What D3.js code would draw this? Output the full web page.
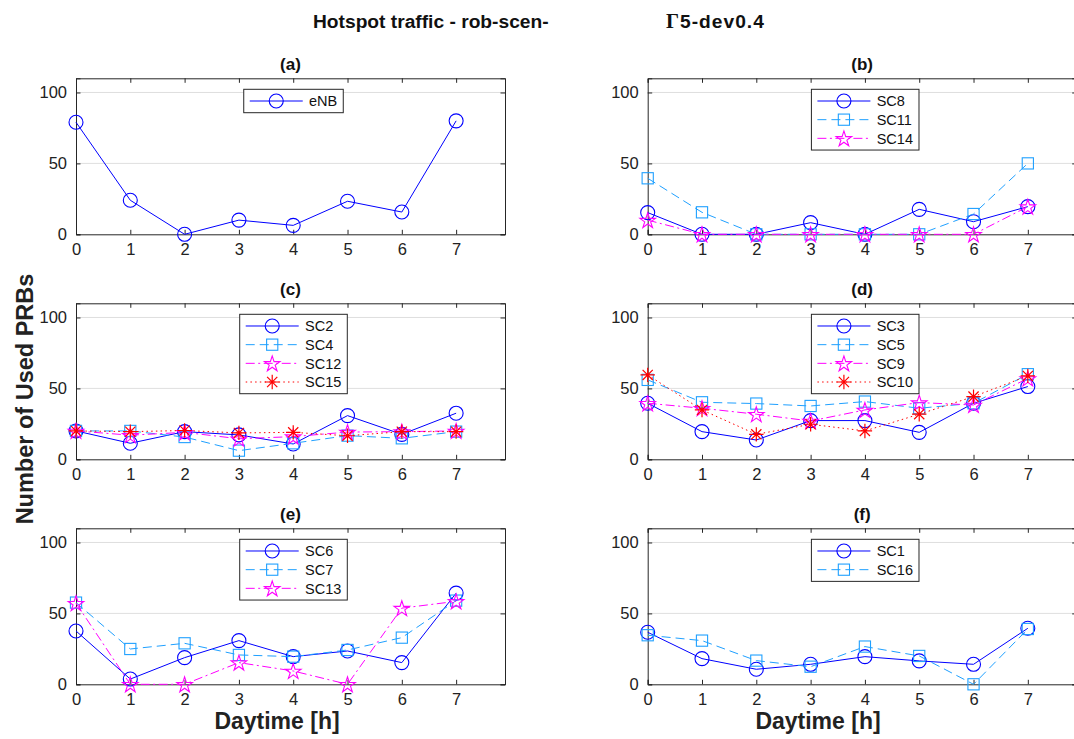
<!DOCTYPE html>
<html>
<head>
<meta charset="utf-8">
<script src="https://cdn.jsdelivr.net/npm/d3@7"></script>
<style>
  html, body { margin: 0; padding: 0; background: #fff; }
  svg { display: block; }
  text { font-family: "Liberation Sans", Arial, Helvetica, sans-serif; }
</style>
</head>
<body>
<svg id="chart" width="1074" height="739"></svg>
<script>
// ---------------- data ----------------
const hours = [0, 1, 2, 3, 4, 5, 6, 7];
const xTickValues = [0, 1, 2, 3, 4, 5, 6, 7];
const yTickValues = [0, 50, 100];
const panelTitles = ["(a)", "(b)", "(c)", "(d)", "(e)", "(f)"];

// (a)
const eNB  = [79, 24, 0, 10, 6.3, 23.3, 15.7, 80];
// (b)
const SC8  = [15.3, 0, 0, 8.2, 0, 17.6, 8.9, 19.5];
const SC11 = [39.5, 15.5, 0, 0, 0, 0, 14.3, 50];
const SC14 = [10, 0, 0, 0, 0, 0, 0, 19.5];
// (c)
const SC2  = [20, 11.3, 19.5, 17.2, 10.8, 30.8, 17.6, 32.5];
const SC4  = [20, 20, 15.7, 6.1, 11.3, 16.7, 14.8, 19.5];
const SC12 = [20, 17, 19, 14.5, 16, 19.2, 19.5, 20];
const SC15 = [20, 19.5, 20.3, 18.6, 19, 16.6, 19.5, 19.5];
// (d)
const SC3  = [39.5, 19.5, 13.6, 27.3, 27.3, 19, 39.5, 51.3];
const SC5  = [56, 40.2, 39.3, 37.6, 40.7, 36, 39.5, 60];
const SC9  = [39.5, 36, 31.8, 27, 34.8, 40, 38.3, 57];
const SC10 = [59.5, 34.8, 17.6, 24.7, 20, 31.8, 44.2, 58.8];
// (e)
const SC6  = [37.6, 3.7, 18.8, 30.8, 19.5, 23.5, 15.3, 64.3];
const SC7  = [57.6, 24.9, 28.9, 20.7, 19.5, 24.2, 32.9, 59];
const SC13 = [57.2, 0, 0, 15.3, 9.4, 0, 53.7, 58.5];
// (f)
const SC1  = [36.7, 18.1, 10.6, 14.1, 19.5, 16.5, 14.1, 39.5];
const SC16 = [34.6, 30.8, 16.7, 12.4, 26.6, 20, 0, 39];

// ---------------- styles ----------------
const STY = {
  circle:   { color: "#0000ff", dash: null,            marker: "circle" },
  square:   { color: "#1fa0ff", dash: "9,5",           marker: "square" },
  star:     { color: "#ff00ff", dash: "9,3.5,2,3.5",   marker: "star" },
  asterisk: { color: "#ff0000", dash: "1.5,3.2",       marker: "asterisk" }
};

const panels = [
  { title: panelTitles[0], series: [{ name: "eNB", values: eNB, s: STY.circle }] },
  { title: panelTitles[1], series: [
      { name: "SC8", values: SC8, s: STY.circle },
      { name: "SC11", values: SC11, s: STY.square },
      { name: "SC14", values: SC14, s: STY.star }] },
  { title: panelTitles[2], series: [
      { name: "SC2", values: SC2, s: STY.circle },
      { name: "SC4", values: SC4, s: STY.square },
      { name: "SC12", values: SC12, s: STY.star },
      { name: "SC15", values: SC15, s: STY.asterisk }] },
  { title: panelTitles[3], series: [
      { name: "SC3", values: SC3, s: STY.circle },
      { name: "SC5", values: SC5, s: STY.square },
      { name: "SC9", values: SC9, s: STY.star },
      { name: "SC10", values: SC10, s: STY.asterisk }] },
  { title: panelTitles[4], series: [
      { name: "SC6", values: SC6, s: STY.circle },
      { name: "SC7", values: SC7, s: STY.square },
      { name: "SC13", values: SC13, s: STY.star }] },
  { title: panelTitles[5], series: [
      { name: "SC1", values: SC1, s: STY.circle },
      { name: "SC16", values: SC16, s: STY.square }] }
];

// ---------------- layout ----------------
const svg = d3.select("#chart");
svg.append("rect").attr("width", 1074).attr("height", 739).attr("fill", "#fff");

const colX = [76, 647.7];
const rowY = [78.3, 303.3, 528.3];
const PW = 429, PH = 156;
const axisColor = "#262626";
const gridColor = "#dfdfdf";

function starPath(R) {
  const r = R * 0.382;
  const pts = [];
  for (let i = 0; i < 10; i++) {
    const a = -Math.PI / 2 + i * Math.PI / 5;
    const rr = i % 2 === 0 ? R : r;
    pts.push([rr * Math.cos(a), rr * Math.sin(a)]);
  }
  return "M" + pts.map(p => p[0].toFixed(2) + "," + p[1].toFixed(2)).join("L") + "Z";
}
function asteriskPath(R) {
  let p = "";
  for (let i = 0; i < 4; i++) {
    const a = i * Math.PI / 4;
    const dx = R * Math.cos(a), dy = R * Math.sin(a);
    p += `M${(-dx).toFixed(2)},${(-dy).toFixed(2)}L${dx.toFixed(2)},${dy.toFixed(2)}`;
  }
  return p;
}
function drawMarker(g, type, x, y, color) {
  if (type === "circle") {
    g.append("circle").attr("cx", x).attr("cy", y).attr("r", 7)
      .attr("fill", "none").attr("stroke", color).attr("stroke-width", 1.1);
  } else if (type === "square") {
    g.append("rect").attr("x", x - 5.6).attr("y", y - 5.6).attr("width", 11.2).attr("height", 11.2)
      .attr("fill", "none").attr("stroke", color).attr("stroke-width", 1.1);
  } else if (type === "star") {
    g.append("path").attr("d", starPath(8.2)).attr("transform", `translate(${x},${y + 0.8})`)
      .attr("fill", "none").attr("stroke", color).attr("stroke-width", 1.1);
  } else if (type === "asterisk") {
    g.append("path").attr("d", asteriskPath(7.2)).attr("transform", `translate(${x},${y})`)
      .attr("fill", "none").attr("stroke", color).attr("stroke-width", 1.2);
  }
}

panels.forEach((p, i) => {
  const col = i % 2, row = Math.floor(i / 2);
  const x0 = colX[col], y0 = rowY[row];
  const g = svg.append("g").attr("transform", `translate(${x0},${y0})`);
  const x = d3.scaleLinear().domain([0, 7.9]).range([0, PW]);
  const y = d3.scaleLinear().domain([0, 110]).range([PH, 0]);

  // grid
  g.append("g").selectAll("line").data(yTickValues.filter(v => v > 0)).join("line")
    .attr("x1", 0).attr("x2", PW).attr("y1", d => y(d)).attr("y2", d => y(d))
    .attr("stroke", gridColor).attr("stroke-width", 1);

  // axes (ticks inward)
  const xb = g.append("g").attr("transform", `translate(0,${PH})`)
    .call(d3.axisBottom(x).tickValues(xTickValues).tickSize(-4.5).tickPadding(9).tickFormat(d3.format("d")));
  const xt = g.append("g")
    .call(d3.axisTop(x).tickValues(xTickValues).tickSize(-4.5).tickFormat(""));
  const yl = g.append("g")
    .call(d3.axisLeft(y).tickValues(yTickValues).tickSize(-4.5).tickPadding(9).tickFormat(d3.format("d")));
  const yr = g.append("g").attr("transform", `translate(${PW},0)`)
    .call(d3.axisRight(y).tickValues(yTickValues).tickSize(-4.5).tickFormat(""));
  [xb, xt, yl, yr].forEach(a => {
    a.select(".domain").attr("stroke", axisColor).attr("stroke-width", 1);
    a.selectAll(".tick line").attr("stroke", axisColor);
    a.selectAll(".tick text").attr("fill", "#222").attr("font-size", "16.5px")
      .attr("font-family", "Liberation Sans, Arial, sans-serif");
  });

  // series
  p.series.forEach(s => {
    const line = d3.line().x((d, k) => x(hours[k])).y(d => y(d));
    g.append("path").datum(s.values).attr("d", line)
      .attr("fill", "none").attr("stroke", s.s.color).attr("stroke-width", 1)
      .attr("stroke-dasharray", s.s.dash);
    const mg = g.append("g");
    s.values.forEach((v, k) => drawMarker(mg, s.s.marker, x(hours[k]), y(v), s.s.color));
  });

  // title
  svg.append("text").attr("x", x0 + PW / 2).attr("y", y0 - 8.5)
    .attr("text-anchor", "middle").attr("font-size", "17px").attr("font-weight", "bold")
    .attr("fill", "#111").text(p.title);

  // legend
  const lg = g.append("g");
  const rowH = 18.67;
  const n = p.series.length;
  const tmp = lg.append("g");
  let maxW = 0;
  p.series.forEach(s => {
    const t = tmp.append("text").attr("font-size", "14.5px").text(s.name);
    maxW = Math.max(maxW, t.node().getComputedTextLength());
  });
  tmp.remove();
  const boxW = 65.3 + maxW + 6;
  const boxH = 23.4 + (n - 1) * rowH;
  const bx = PW / 2 + 3 - boxW / 2, by = 11;
  lg.append("rect").attr("x", bx).attr("y", by).attr("width", boxW).attr("height", boxH)
    .attr("fill", "#fff").attr("stroke", axisColor).attr("stroke-width", 1);
  p.series.forEach((s, k) => {
    const cy = by + 11.7 + k * rowH;
    lg.append("line").attr("x1", bx + 6).attr("x2", bx + 59).attr("y1", cy).attr("y2", cy)
      .attr("stroke", s.s.color).attr("stroke-width", 1).attr("stroke-dasharray", s.s.dash);
    drawMarker(lg, s.s.marker, bx + 32.5, cy, s.s.color);
    lg.append("text").attr("x", bx + 65.3).attr("y", cy).attr("dy", "0.36em")
      .attr("font-size", "14.5px").attr("fill", "#111").text(s.name);
  });
});

// main title
const title = svg.append("text").attr("y", 28.3).attr("font-size", "19.2px")
  .attr("font-weight", "bold").attr("fill", "#111");
title.append("tspan").attr("x", 313).text("Hotspot traffic - rob-scen-");
title.append("tspan").attr("x", 666).attr("font-family", "Liberation Serif, Times New Roman, serif")
  .attr("font-size", "20.5px").attr("letter-spacing", "1px").text("Γ");
title.append("tspan").attr("letter-spacing", "1px").text("5-dev0.4");

// axis labels
svg.append("text").attr("transform", "translate(33,399) rotate(-90)")
  .attr("text-anchor", "middle").attr("font-size", "23.5px").attr("font-weight", "bold")
  .attr("fill", "#222").text("Number of Used PRBs");
[277, 818].forEach(cx => {
  svg.append("text").attr("x", cx).attr("y", 729).attr("text-anchor", "middle")
    .attr("font-size", "23px").attr("font-weight", "bold").attr("fill", "#222").text("Daytime [h]");
});
</script>
</body>
</html>
